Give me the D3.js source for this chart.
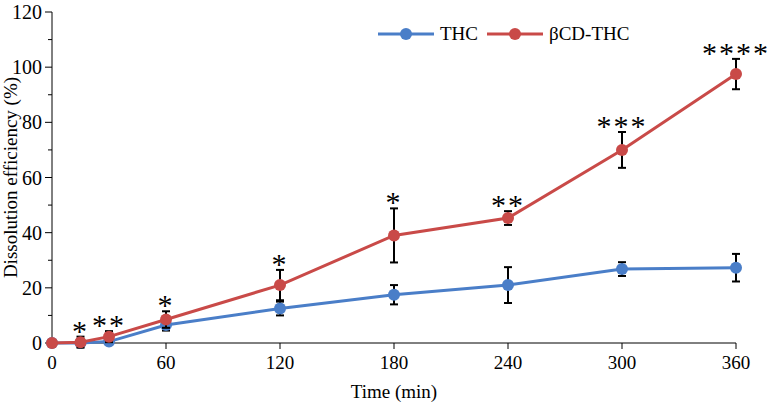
<!DOCTYPE html>
<html>
<head>
<meta charset="utf-8"/>
<script src="https://d3js.org/d3.v7.min.js"></script>
<style>
body{margin:0;background:#fff;}
text{font-family:"Liberation Serif","Times New Roman",serif;fill:#000;}
</style>
</head>
<body>
<script>
// data
var times = [0, 15, 30, 60, 120, 180, 240, 300, 360];
var thc = [0, 0, 0.5, 6.5, 12.5, 17.5, 21, 26.8, 27.3];
var thcErr = [0, 0.5, 1, 2, 2.5, 3.5, 6.5, 2.5, 5];
var cd = [0, 0.3, 2.3, 8.5, 21, 39, 45.3, 70, 97.5];
var cdErr = [0, 2, 2, 3, 5.5, 9.8, 2.5, 6.5, 5.5];
var stars = ["", "*", "**", "*", "*", "*", "**", "***", "****"];
var xTicks = [0, 60, 120, 180, 240, 300, 360];
var yTicks = [0, 20, 40, 60, 80, 100, 120];

var W = 771, H = 410;
var m = {l: 52, r: 35, t: 12, b: 67};
var svg = d3.select("body").append("svg").attr("width", W).attr("height", H);
var x = d3.scaleLinear().domain([0, 360]).range([m.l, W - m.r]);
var y = d3.scaleLinear().domain([0, 120]).range([H - m.b, m.t]);

// axes
svg.append("line").attr("x1", x(0)).attr("x2", x(0)).attr("y1", y(0)).attr("y2", y(120)).attr("stroke", "#000");
svg.append("line").attr("x1", x(0)).attr("x2", x(360)).attr("y1", y(0)).attr("y2", y(0)).attr("stroke", "#000");
d3.range(0, 121, 10).forEach(function(v) {
  svg.append("line").attr("x1", x(0) - (v % 20 ? 4 : 7)).attr("x2", x(0)).attr("y1", y(v)).attr("y2", y(v)).attr("stroke", "#000");
});
yTicks.forEach(function(v) {
  svg.append("text").attr("x", x(0) - 10).attr("y", y(v) + 7).attr("text-anchor", "end").attr("font-size", 20).text(v);
});
xTicks.forEach(function(v) {
  svg.append("line").attr("x1", x(v)).attr("x2", x(v)).attr("y1", y(0)).attr("y2", y(0) + 6).attr("stroke", "#000");
  svg.append("text").attr("x", x(v)).attr("y", y(0) + 26).attr("text-anchor", "middle").attr("font-size", 19).text(v);
});
svg.append("text").attr("x", (x(0) + x(360)) / 2).attr("y", H - 12).attr("text-anchor", "middle").attr("font-size", 19).text("Time (min)");
svg.append("text").attr("transform", "translate(17," + y(60) + ") rotate(-90)").attr("text-anchor", "middle").attr("font-size", 19).text("Dissolution efficiency (%)");

function series(vals, errs, color) {
  var pts = times.map(function(t, i) { return {t: t, v: vals[i], e: errs[i]}; });
  svg.append("path").datum(pts).attr("fill", "none").attr("stroke", color).attr("stroke-width", 3)
    .attr("d", d3.line().x(function(d) { return x(d.t); }).y(function(d) { return y(d.v); }));
  var g = svg.append("g").attr("stroke", "#000").attr("stroke-width", 2);
  pts.filter(function(d) { return d.e > 0; }).forEach(function(d) {
    g.append("line").attr("x1", x(d.t)).attr("x2", x(d.t)).attr("y1", y(d.v - d.e)).attr("y2", y(d.v + d.e));
    [d.v - d.e, d.v + d.e].forEach(function(e) {
      g.append("line").attr("x1", x(d.t) - 4).attr("x2", x(d.t) + 4).attr("y1", y(e)).attr("y2", y(e));
    });
  });
  svg.selectAll(null).data(pts).enter().append("circle")
    .attr("cx", function(d) { return x(d.t); }).attr("cy", function(d) { return y(d.v); })
    .attr("r", 6).attr("fill", color);
}
series(thc, thcErr, "#4a7ec8");
series(cd, cdErr, "#c94a48");

// significance
times.forEach(function(t, i) {
  if (!stars[i]) return;
  var top = Math.max(cd[i] + cdErr[i], thc[i] + thcErr[i]);
  svg.append("text").attr("x", x(t)).attr("y", y(top) + 4).attr("text-anchor", "middle")
    .attr("font-size", 30).attr("letter-spacing", 2).text(stars[i]);
});

// legend
[["THC", "#4a7ec8", 378], ["βCD-THC", "#c94a48", 487]].forEach(function(l) {
  svg.append("line").attr("x1", l[2]).attr("x2", l[2] + 56).attr("y1", 34).attr("y2", 34).attr("stroke", l[1]).attr("stroke-width", 3);
  svg.append("circle").attr("cx", l[2] + 28).attr("cy", 34).attr("r", 6).attr("fill", l[1]);
  svg.append("text").attr("x", l[2] + 62).attr("y", 40).attr("font-size", 19).text(l[0]);
});
</script>
</body>
</html>
